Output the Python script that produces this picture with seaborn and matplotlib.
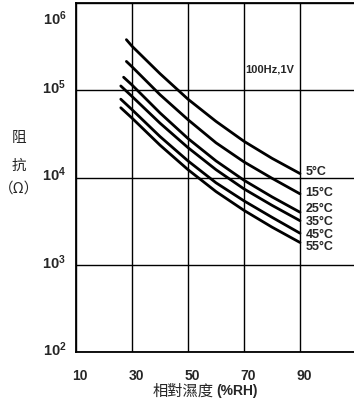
import matplotlib
matplotlib.use('Agg')
import matplotlib.pyplot as plt
import matplotlib.transforms as mtransforms
import seaborn as sns
import pandas as pd

# impedance vs. relative humidity, one curve per temperature
temps = ['5°C', '15°C', '25°C', '35°C', '45°C', '55°C']
rh_5 = [28, 30, 40, 50, 60, 70, 80, 90]
z_5 = [380000, 320000, 155000, 79000, 44000, 26000, 16600, 11100]
rh_15 = [28, 30, 40, 50, 60, 70, 80, 90]
z_15 = [214000, 186000, 89000, 46000, 25000, 15100, 9800, 6500]
rh_25 = [27, 30, 40, 50, 60, 70, 80, 90]
z_25 = [141000, 115000, 55000, 28000, 15500, 9300, 6000, 4000]
rh_35 = [26, 30, 40, 50, 60, 70, 80, 90]
z_35 = [112000, 85000, 42000, 22000, 12300, 7400, 4800, 3200]
rh_45 = [26, 30, 40, 50, 60, 70, 80, 90]
z_45 = [79000, 60000, 29500, 15500, 8700, 5400, 3500, 2300]
rh_55 = [26, 30, 40, 50, 60, 70, 80, 90]
z_55 = [63000, 48000, 23500, 12300, 6900, 4200, 2700, 1800]

x_ticks = [10, 30, 50, 70, 90]
y_ticks = [1e2, 1e3, 1e4, 1e5, 1e6]
y_ticklabels = [r'$\mathbf{10^{2}}$', r'$\mathbf{10^{3}}$', r'$\mathbf{10^{4}}$',
                r'$\mathbf{10^{5}}$', r'$\mathbf{10^{6}}$']

rh_all = [rh_5, rh_15, rh_25, rh_35, rh_45, rh_55]
z_all = [z_5, z_15, z_25, z_35, z_45, z_55]
rows = []
for t, rh, z in zip(temps, rh_all, z_all):
    for a, b in zip(rh, z):
        rows.append({'rh': a, 'z': b, 'temp': t})
df = pd.DataFrame(rows)

sns.set_style('white')
plt.rcParams['font.family'] = ['Liberation Sans', 'DejaVu Sans']
plt.rcParams['mathtext.fontset'] = 'custom'
plt.rcParams['mathtext.bf'] = 'Liberation Sans:bold'
plt.rcParams['mathtext.rm'] = 'Liberation Sans'

fig = plt.figure(figsize=(3.54, 4.03), dpi=100)
ax = fig.add_axes([76 / 354, 1 - 352 / 403, 1 - 76 / 354, 349 / 403])

sns.lineplot(data=df, x='rh', y='z', hue='temp', hue_order=temps,
             palette=['black'] * len(temps), estimator=None, legend=False,
             linewidth=2, ax=ax)

ax.set_yscale('log')
ax.set_xlim(10, 109.3)
ax.set_ylim(1e2, 1e6)
ax.set_xticks(x_ticks)
ax.set_xticklabels([str(v) for v in x_ticks], fontweight='bold', fontsize=10)
ax.set_yticks(y_ticks)
ax.set_yticklabels(y_ticklabels, fontsize=10.5)
ax.minorticks_off()
ax.tick_params(axis='both', length=0)
ax.tick_params(axis='x', pad=12)
ax.tick_params(axis='y', pad=7)
ax.grid(True, which='major', color='black', linewidth=1)
ax.set_xlabel('')
ax.set_ylabel('')
for side in ['left', 'bottom', 'top']:
    ax.spines[side].set_color('black')
    ax.spines[side].set_linewidth(1.3)
ax.spines['right'].set_visible(False)

shift_x = mtransforms.ScaledTranslation(4 / 100, 0, fig.dpi_scale_trans)
for lbl in ax.get_xticklabels():
    lbl.set_transform(lbl.get_transform() + shift_x)
# y labels sit a little above their grid line; the top one is pushed down
ylbls = ax.get_yticklabels()
for lbl in ylbls[:-1]:
    lbl.set_transform(lbl.get_transform() +
                      mtransforms.ScaledTranslation(0, 4 / 100, fig.dpi_scale_trans))
ylbls[-1].set_transform(ylbls[-1].get_transform() +
                        mtransforms.ScaledTranslation(0, -14 / 100, fig.dpi_scale_trans))

# curve labels at the right end of each line
label_dy = [2, 1, 3, -1, -2, -5]
for t, rh, z, dy in zip(temps, rh_all, z_all, label_dy):
    ax.annotate(t, xy=(rh[-1], z[-1]), xytext=(4, dy * 0.72),
                textcoords='offset points', ha='left', va='center',
                fontsize=9, fontweight='bold')

ax.text(70.6, 1.75e5, '100Hz,1V', fontsize=8, fontweight='bold',
        ha='left', va='center')

cjk = ['Noto Sans CJK TC', 'DejaVu Sans']
fig.text(19 / 354, 1 - 138 / 403, '阻', family=cjk, fontsize=10.5,
         ha='center', va='center')
fig.text(19 / 354, 1 - 166 / 403, '抗', family=cjk, fontsize=10.5,
         ha='center', va='center')
fig.text(19 / 354, 1 - 189 / 403, '（Ω）', family=cjk, fontsize=10.5,
         ha='center', va='center')
fig.text(214 / 354, 1 - 391 / 403, '相對濕度', family=cjk, fontsize=11,
         ha='right', va='center')
fig.text(216 / 354, 1 - 391 / 403, '(%RH)', fontsize=10, fontweight='bold',
         ha='left', va='center')

fig.savefig('out.png', dpi=100)
